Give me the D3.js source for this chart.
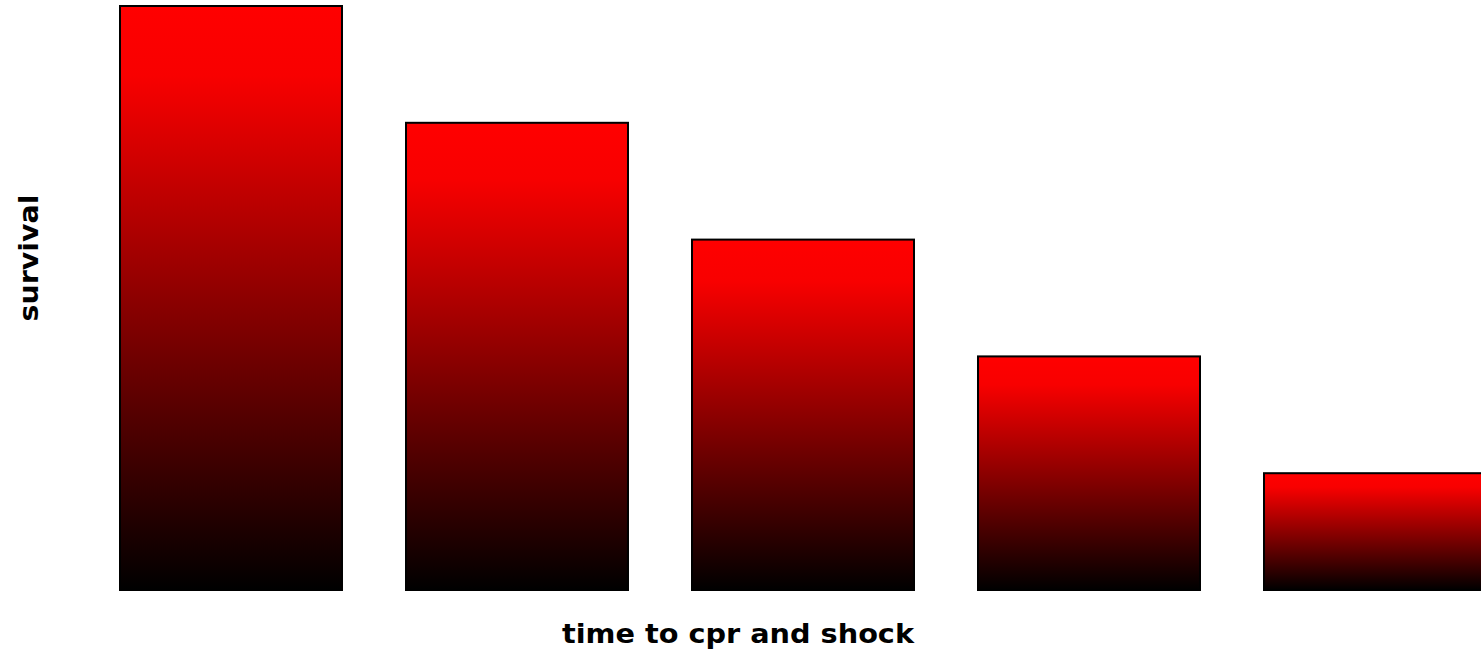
<!DOCTYPE html>
<html lang="en">
<head>
    <meta charset="UTF-8">
    <script src="https://d3js.org/d3.v7.min.js"></script>
    <style>
    body { margin:0; overflow:hidden; background:#fff; }
    .label { font-family: "DejaVu Sans", Verdana, sans-serif; font-weight: bold; font-size: 26px; fill: #000; }
    .bar { stroke: #000; stroke-width: 2px; }
    </style>
    <title>survival</title>
</head>
<body>
<script>
// chart data
var delays = ["1", "2", "3", "4", "5"];
var survival = [5, 4, 3, 2, 1];

var width = 1481, height = 651;

var svg = d3.select("body").append("svg")
    .attr("width", width)
    .attr("height", height);

// gradient red -> black, per bar
var grad = svg.append("defs").append("linearGradient")
    .attr("id", "redBlack")
    .attr("x1", "0").attr("y1", "0")
    .attr("x2", "0").attr("y2", "1");
grad.append("stop").attr("offset", "0%").attr("stop-color", "#ff0000");
grad.append("stop").attr("offset", "12%").attr("stop-color", "#f80000");
grad.append("stop").attr("offset", "100%").attr("stop-color", "#000000");

var x = d3.scaleBand()
    .domain(delays)
    .range([120, 1486])
    .paddingInner(0.2238);

var y = d3.scaleLinear()
    .domain([0, 5])
    .range([590, 6]);

svg.selectAll(".bar").data(survival).enter()
  .append("rect")
    .attr("class", "bar")
    .attr("x", function(d, i) { return x(delays[i]); })
    .attr("y", function(d) { return y(d); })
    .attr("width", x.bandwidth())
    .attr("height", function(d) { return y(0) - y(d); })
    .attr("fill", "url(#redBlack)");

svg.append("text")
    .attr("class", "label")
    .attr("x", 738)
    .attr("y", 643)
    .attr("text-anchor", "middle")
    .attr("textLength", 352)
    .attr("lengthAdjust", "spacingAndGlyphs")
    .text("time to cpr and shock");

svg.append("text")
    .attr("class", "label")
    .attr("transform", "translate(38,258) rotate(-90)")
    .attr("text-anchor", "middle")
    .attr("textLength", 127)
    .attr("lengthAdjust", "spacingAndGlyphs")
    .text("survival");
</script>
</body>
</html>
